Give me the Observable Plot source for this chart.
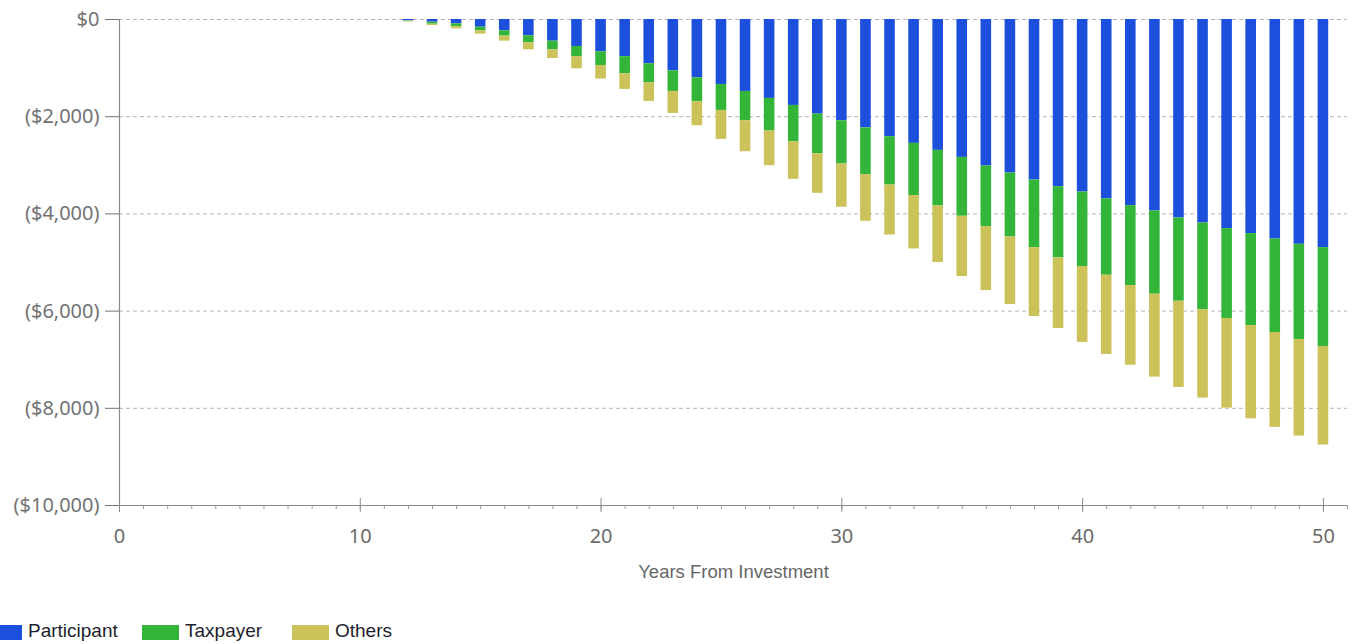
<!DOCTYPE html>
<html>
<head>
<meta charset="utf-8">
<script src="https://cdn.jsdelivr.net/npm/d3@7"></script>
<script src="https://cdn.jsdelivr.net/npm/@observablehq/plot@0.6"></script>
<style>
  html, body { margin: 0; padding: 0; background: #fff; overflow: hidden; }
  #chart svg { display: block; }
  #legend { position: relative; height: 44px; font-family: "Liberation Sans", Arial, sans-serif; font-size: 19px; color: #1e1e2e; }
  .item { position: absolute; top: 20px; display: flex; align-items: center; white-space: nowrap; }
  .sw { width: 37px; height: 15px; margin-right: 6px; margin-top: 3px; }
</style>
</head>
<body>
<div id="chart"></div>
<div id="legend"></div>
<script>
const seriesNames = ["Participant", "Taxpayer", "Others"];
const seriesColors = ["#1c50dc", "#33b53a", "#cbc25a"];
const years = [12,13,14,15,16,17,18,19,20,21,22,23,24,25,26,27,28,29,30,31,32,33,34,35,36,37,38,39,40,41,42,43,44,45,46,47,48,49,50];
const participant = [-28,-55,-90,-158,-233,-336,-445,-555,-665,-765,-911,-1055,-1199,-1336,-1480,-1624,-1768,-1946,-2083,-2230,-2411,-2549,-2693,-2837,-3015,-3159,-3303,-3440,-3550,-3690,-3830,-3940,-4084,-4187,-4303,-4405,-4516,-4625,-4693];
const taxpayer = [-6,-41,-60,-75,-109,-144,-179,-213,-281,-352,-391,-425,-494,-535,-603,-671,-746,-815,-891,-963,-995,-1075,-1144,-1212,-1246,-1316,-1390,-1466,-1533,-1572,-1644,-1713,-1713,-1789,-1849,-1891,-1924,-1959,-2035];
const others = [-15,-27,-42,-68,-103,-144,-177,-246,-280,-322,-384,-452,-492,-596,-637,-713,-775,-816,-890,-959,-1028,-1097,-1164,-1240,-1316,-1390,-1418,-1452,-1562,-1630,-1638,-1705,-1773,-1814,-1844,-1920,-1953,-1987,-2028];
const xTicks = [0,10,20,30,40,50];
const xMinorTicks = d3.range(0, 52);
const yTicks = [0,-2000,-4000,-6000,-8000,-10000];
const xTitle = "Years From Investment";

const seriesValues = [participant, taxpayer, others];
const data = [];
years.forEach((yr, i) => {
  seriesNames.forEach((s, k) => data.push({year: yr, series: s, value: seriesValues[k][i]}));
});

const fmt = v => v === 0 ? "$0" : `($${d3.format(",")(-v)})`;
const tickFont = '"Noto Sans", "Open Sans", sans-serif';

const chart = Plot.plot({
  width: 1362,
  height: 600,
  marginLeft: 119,
  marginRight: 15,
  marginTop: 19,
  marginBottom: 95,
  style: {fontFamily: tickFont, background: "#fff"},
  x: {domain: [0, 51]},
  y: {domain: [-10000, 0]},
  color: {domain: seriesNames, range: seriesColors},
  marks: [
    Plot.ruleY(yTicks.filter(v => v > -10000), {stroke: "#b4b4b4", strokeDasharray: "4,3", strokeWidth: 1}),
    Plot.rectY(data, Plot.stackY({
      x1: d => d.year - 0.22,
      x2: d => d.year + 0.22,
      y: "value",
      fill: "series",
      z: "series",
      order: seriesNames
    })),
    Plot.ruleX([0], {stroke: "#8a8a8a", strokeWidth: 1.2}),
    Plot.ruleY([-10000], {stroke: "#8a8a8a", strokeWidth: 1.2}),
    Plot.ruleX(xMinorTicks, {x: d => d, y1: -10000, y2: -10000, insetTop: 0, insetBottom: -4, stroke: "#9a9a9a"}),
    Plot.ruleX(xTicks, {x: d => d, y1: -10000, y2: -10000, insetTop: -7, insetBottom: -7, stroke: "#8a8a8a"}),
    Plot.axisX({ticks: xTicks, tickSize: 0, tickPadding: 23, fontSize: 20, color: "#6b6b6b", label: null, tickFormat: d => String(d)}),
    Plot.axisY({ticks: yTicks, tickSize: 14, tickPadding: 6, fontSize: 20, color: "#737373", label: null, tickFormat: fmt}),
    Plot.text([xTitle], {frameAnchor: "bottom", dy: 67, lineAnchor: "middle", fontSize: 18.5, fill: "#666", fontFamily: '"Liberation Sans", Arial, sans-serif'})
  ]
});
document.getElementById("chart").appendChild(chart);

const legend = document.getElementById("legend");
const lefts = [-15, 142, 292];
seriesNames.forEach((s, k) => {
  const it = document.createElement("div");
  it.className = "item";
  it.style.left = lefts[k] + "px";
  const sw = document.createElement("div");
  sw.className = "sw";
  sw.style.background = seriesColors[k];
  const t = document.createElement("span");
  t.textContent = s;
  it.appendChild(sw); it.appendChild(t);
  legend.appendChild(it);
});
</script>
</body>
</html>
